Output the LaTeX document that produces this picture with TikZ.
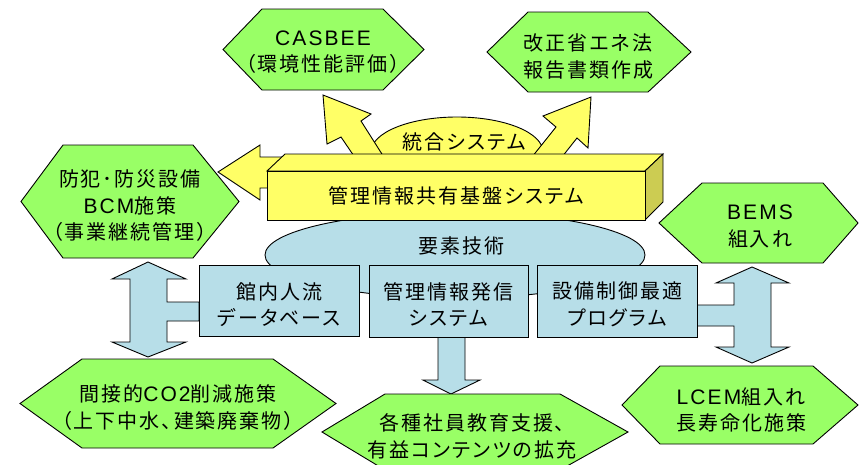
\documentclass[tikz,border=0pt]{standalone}
\usepackage{fontspec}
\setmainfont{Noto Sans CJK JP}[RawFeature=+palt, LetterSpace=10]
\newfontfamily\lat{Liberation Sans}[Scale=1.05, LetterSpace=10]
\definecolor{hexgreen}{HTML}{99FF66}
\definecolor{yel}{HTML}{FFFF66}
\definecolor{yelside}{HTML}{CCCC52}
\definecolor{lblue}{HTML}{B7DEE8}
\begin{document}
\begin{tikzpicture}[x=1pt,y=-1pt,
  outl/.style={draw=black, line width=0.9pt, line join=miter},
  hexshape/.style={outl, fill=hexgreen},
  yshape/.style={outl, fill=yel},
  bshape/.style={outl, fill=lblue},
  lbl/.style={align=center, inner sep=0pt, font=\fontsize{20}{26.5}\selectfont}
]
\useasboundingbox (0,0) rectangle (859,464);
% yellow ellipse
\draw[yshape] (457,152) ellipse [x radius=86, y radius=35];
\node[lbl] (togo) at (464,142) {統合システム};
% yellow arrows
\draw[yshape] (300,157) -- (260,157) -- (260,145) -- (218,172) -- (260,200) -- (260,188) -- (300,188) -- cycle;
\draw[yshape] (387,162) -- (361,121) -- (371,114) -- (323,95) -- (327,144) -- (341,137) -- (358,162) -- cycle;
\draw[yshape] (528,162) -- (556,127) -- (543,116) -- (591,97) -- (588,148) -- (577,138) -- (558,162) -- cycle;
% blue ellipse
\draw[bshape] (455,255) ellipse [x radius=190, y radius=43];
\node[lbl] (yoso) at (461,246) {要素技術};
% box
\draw[yshape] (267,171) -- (285,154) -- (663,154) -- (645,171) -- cycle;
\draw[outl, fill=yelside] (645,171) -- (663,154) -- (663,202) -- (645,220) -- cycle;
\draw[yshape] (267,171) rectangle (645,220);
\node[lbl] (kiban) at (456,196) {管理情報共有基盤システム};
% blue arrows
\draw[bshape] (148,262) -- (186,279) -- (167,279) -- (167,302) -- (199,302) -- (199,321) -- (167,321) -- (167,342) -- (186,342) -- (148,357) -- (112,342) -- (130,342) -- (130,279) -- (112,279) -- cycle;
\draw[bshape] (752,267) -- (789,283) -- (771,283) -- (771,347) -- (789,347) -- (752,363) -- (716,347) -- (734,347) -- (734,326) -- (697,326) -- (697,305) -- (734,305) -- (734,283) -- (716,283) -- cycle;
\draw[bshape] (438,330) -- (438,380) -- (423,380) -- (451,394) -- (480,380) -- (465,380) -- (465,330) -- cycle;
% rectangles
\draw[bshape] (199,265) rectangle (359,336);
\draw[bshape] (369,265) rectangle (528,337);
\draw[bshape] (537,265) rectangle (697,337);
\node[lbl] (r1) at (279,304.5) {館内人流\\データベース};
\node[lbl] (r2) at (448,304.5) {管理情報発信\\システム};
\node[lbl] (r3) at (617,304.5) {設備制御最適\\プログラム};
% hexagons
\draw[hexshape] (223,49.5) -- (262,9) -- (383,9) -- (424,49.5) -- (383,90) -- (262,90) -- cycle;
\node[lbl] (casbee) at (323,52) {{\lat CASBEE}\\（環境性能評価）};
\draw[hexshape] (487,52) -- (528,12) -- (648,12) -- (691,52) -- (648,92) -- (528,92) -- cycle;
\node[lbl] (shoene) at (588,56.5) {改正省エネ法\\報告書類作成};
\draw[hexshape] (21,201.5) -- (63,145) -- (193,145) -- (239,201.5) -- (193,258) -- (63,258) -- cycle;
\node[lbl] (bohan) at (130,206) {防犯･防災設備\\{\lat BCM}施策\\（事業継続管理）};
\draw[hexshape] (659,223) -- (702,183) -- (823,183) -- (858,223) -- (823,263) -- (702,263) -- cycle;
\node[lbl] (bems) at (760,226.5) {{\lat BEMS}\\組入れ};
\draw[hexshape] (20,403.5) -- (82,359) -- (273,359) -- (336,403.5) -- (273,448) -- (82,448) -- cycle;
\node[lbl] (co2) at (178,407.5) {間接的{\lat CO2}削減施策\\（上下中水、建築廃棄物）};
\draw[hexshape] (322,432) -- (385,394) -- (560,394) -- (628,432) -- (560,470) -- (385,470) -- cycle;
\node[lbl] (kyoiku) at (472,436.5) {各種社員教育支援、\\有益コンテンツの拡充};
\draw[hexshape] (622,405) -- (660,366) -- (813,366) -- (858,405) -- (813,444) -- (660,444) -- cycle;
\node[lbl] (lcem) at (741,410) {{\lat LCEM}組入れ\\長寿命化施策};
\end{tikzpicture}
\end{document}
